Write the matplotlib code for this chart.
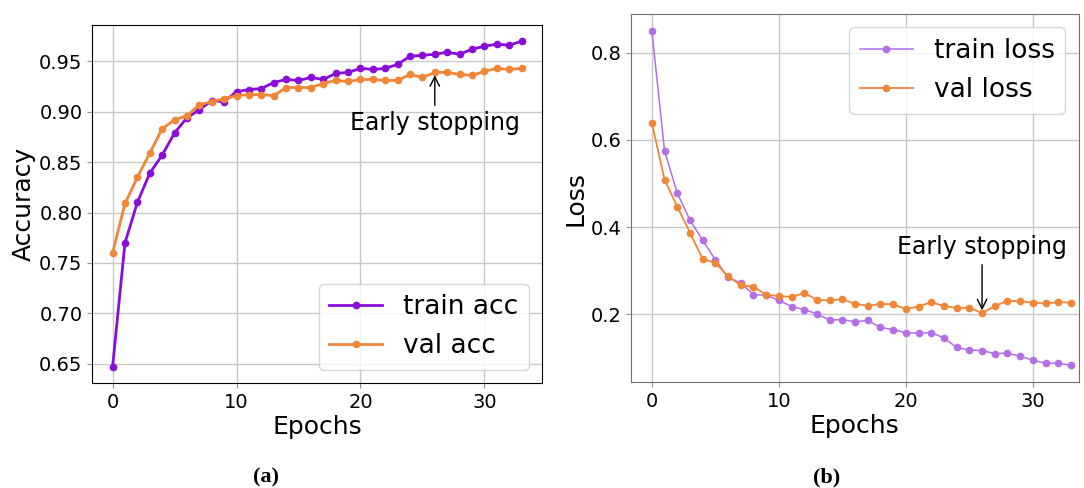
import numpy as np
import matplotlib.pyplot as plt
from matplotlib.ticker import MultipleLocator

# Datos
epochs = np.arange(34)
train_acc = [0.647, 0.770, 0.810, 0.839, 0.857, 0.879, 0.894, 0.902, 0.911, 0.910,
             0.920, 0.922, 0.923, 0.929, 0.932, 0.931, 0.934, 0.932, 0.938, 0.939,
             0.943, 0.942, 0.943, 0.947, 0.955, 0.956, 0.957, 0.959, 0.957, 0.962,
             0.965, 0.967, 0.966, 0.970]
val_acc = [0.760, 0.809, 0.835, 0.859, 0.883, 0.892, 0.896, 0.907, 0.910, 0.913,
           0.916, 0.917, 0.917, 0.916, 0.924, 0.924, 0.924, 0.928, 0.931, 0.930,
           0.932, 0.932, 0.931, 0.931, 0.937, 0.934, 0.939, 0.939, 0.937, 0.936,
           0.940, 0.943, 0.942, 0.943]
train_loss = [0.850, 0.575, 0.478, 0.416, 0.370, 0.325, 0.285, 0.272, 0.245, 0.244,
              0.232, 0.218, 0.211, 0.201, 0.187, 0.188, 0.183, 0.186, 0.170, 0.165,
              0.158, 0.157, 0.158, 0.146, 0.124, 0.118, 0.117, 0.110, 0.111, 0.104,
              0.095, 0.088, 0.088, 0.083]
val_loss = [0.639, 0.509, 0.447, 0.387, 0.327, 0.318, 0.287, 0.267, 0.263, 0.245,
            0.242, 0.240, 0.249, 0.233, 0.232, 0.235, 0.224, 0.220, 0.224, 0.223,
            0.212, 0.218, 0.228, 0.219, 0.215, 0.215, 0.203, 0.219, 0.231, 0.230,
            0.227, 0.225, 0.228, 0.227]
stop_epoch = 26

purple = "#8a0cd8"
light_purple = "#b46ee6"
orange = "#ef8638"

fig = plt.figure(figsize=(10.84, 4.88), dpi=100)
ax1 = fig.add_axes([0.085, 0.215, 0.415, 0.734])
ax2 = fig.add_axes([0.582, 0.217, 0.413, 0.754])

# (a) accuracy
ax1.plot(epochs, train_acc, color=purple, lw=2, marker="o", ms=4.5, label="train acc")
ax1.plot(epochs, val_acc, color=orange, lw=2, marker="o", ms=4.5, label="val acc")
ax1.annotate("Early stopping", xy=(stop_epoch, val_acc[stop_epoch]),
             xytext=(26, 0.889), ha="center", va="center", fontsize=17,
             arrowprops=dict(arrowstyle="->", color="black", lw=1))
ax1.set_xlabel("Epochs", fontsize=18, labelpad=2)
ax1.set_ylabel("Accuracy", fontsize=18, labelpad=2)
ax1.legend(loc="lower right", fontsize=19)
ax1.grid(True, color="#c8c8c8", lw=1)

# (b) loss
ax2.plot(epochs, train_loss, color=light_purple, lw=1.1, marker="o", ms=4.5, label="train loss")
ax2.plot(epochs, val_loss, color=orange, lw=1.3, marker="o", ms=4.5, label="val loss")
ax2.annotate("Early stopping", xy=(stop_epoch, val_loss[stop_epoch]),
             xytext=(26, 0.354), ha="center", va="center", fontsize=17,
             arrowprops=dict(arrowstyle="->", color="black", lw=1))
ax2.set_xlim(-1.65, 33.6)
ax2.yaxis.set_major_locator(MultipleLocator(0.2))
ax2.set_xlabel("Epochs", fontsize=18, labelpad=2)
ax2.set_ylabel("Loss", fontsize=18, labelpad=2)
ax2.legend(loc="upper right", fontsize=19)
ax2.grid(True, color="#c8c8c8", lw=1)
for s in ax2.spines.values():
    s.set_color("#707070")

for ax in (ax1, ax2):
    ax.tick_params(labelsize=14, color="#909090")

fig.text(0.245, 0.012, "(a)", fontsize=16, fontweight="bold",
         family="Liberation Serif", ha="center")
fig.text(0.763, 0.012, "(b)", fontsize=16, fontweight="bold",
         family="Liberation Serif", ha="center")

plt.savefig("out.png", dpi=100)
plt.close()
